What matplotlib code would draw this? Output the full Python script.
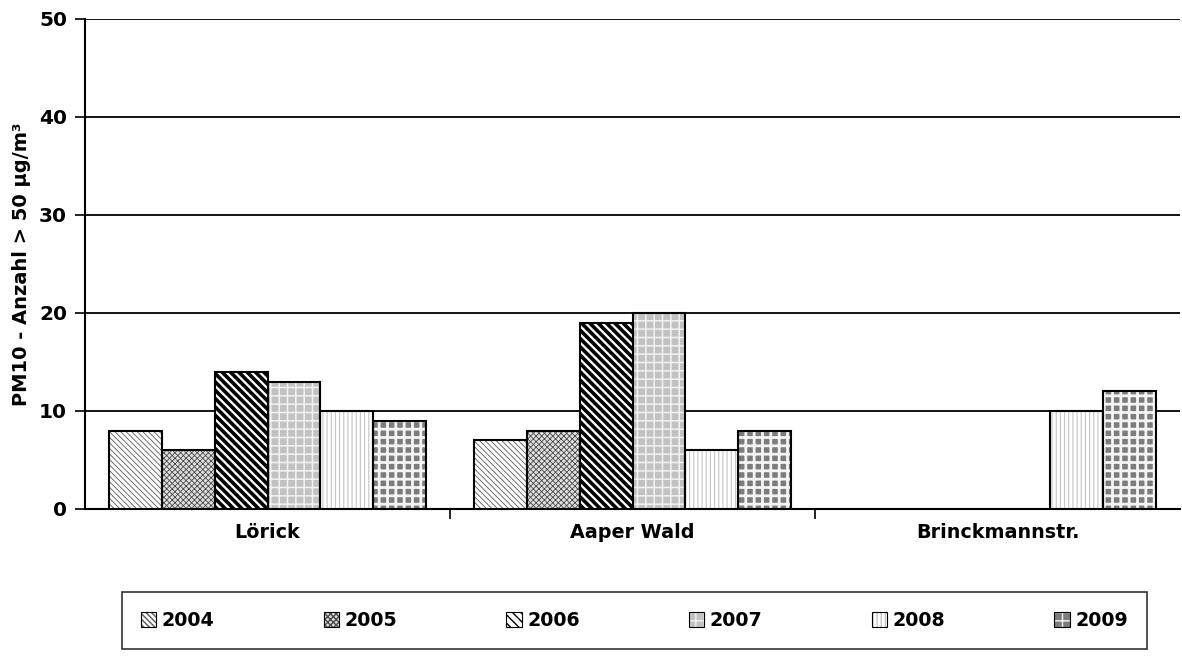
import numpy as np
import matplotlib
matplotlib.use("Agg")
import matplotlib.pyplot as plt
from matplotlib.patches import Patch

plt.rcParams['font.family'] = ['DejaVu Sans']
plt.rcParams['font.weight'] = 'bold'

stations = ["Lörick", "Aaper Wald", "Brinckmannstr."]
years = ["2004", "2005", "2006", "2007", "2008", "2009"]
counts = {
    "2004": [8, 7, np.nan],
    "2005": [6, 8, np.nan],
    "2006": [14, 19, np.nan],
    "2007": [13, 20, np.nan],
    "2008": [10, 6, 10],
    "2009": [9, 8, 12],
}
y_ticks = [0, 10, 20, 30, 40, 50]

# fill colour, hatch pattern, hatch colour, hatch line width
styles = {
    "2004": ("white", "\\\\\\\\\\\\", "#5a5a5a", 0.6),
    "2005": ("#e0e0e0", "xxxxxx", "#4a4a4a", 0.6),
    "2006": ("white", "\\\\\\\\", "black", 2.6),
    "2007": ("#c2c2c2", "++", "#f2f2f2", 1.1),
    "2008": ("white", "||||", "#c4c4c4", 0.8),
    "2009": ("#7c7c7c", "++", "#f4f4f4", 2.0),
}

fig = plt.figure(figsize=(11.82, 6.57), dpi=100)
ax = fig.add_axes([85 / 1182, 1 - 509 / 657, (1180 - 85) / 1182, (509 - 19) / 657])

x = np.arange(len(stations))
width = 0.145
n = len(years)
handles = []
for i, yr in enumerate(years):
    fc, hatch, hc, hlw = styles[yr]
    pos = x + (i - (n - 1) / 2) * width
    vals = counts[yr]
    with plt.rc_context({'hatch.linewidth': hlw}):
        bars = ax.bar(pos, vals, width, color=fc, edgecolor=hc, hatch=hatch,
                      linewidth=0, zorder=3)
        for b in bars:
            if hasattr(b, "set_hatch_linewidth"):
                b.set_hatch_linewidth(hlw)
        ax.bar(pos, vals, width, facecolor="none", edgecolor="black",
               linewidth=1.5, zorder=4)
        h = Patch(facecolor=fc, edgecolor=hc, hatch=hatch, linewidth=0)
        if hasattr(h, "set_hatch_linewidth"):
            h.set_hatch_linewidth(min(hlw, 1.0))
    handles.append((h, Patch(facecolor="none", edgecolor="black", linewidth=0.8)))

ax.set_xlim(-0.5, 2.5)
ax.set_ylim(0, 50)
ax.set_yticks(y_ticks)
ax.set_yticklabels([str(t) for t in y_ticks], fontsize=14.5, fontweight='bold')
ax.yaxis.grid(True, color="black", linewidth=1.3, zorder=0)
ax.set_axisbelow(True)
ax.set_xticks(x)
ax.set_xticklabels(stations, fontsize=13.8, fontweight='bold')
ax.tick_params(axis='x', which='major', length=0, pad=10)
ax.set_xticks([0.5, 1.5], minor=True)
ax.tick_params(axis='x', which='minor', length=7, width=1.2, direction='out')
ax.tick_params(axis='y', length=7, width=1.2, direction='out', pad=6)
for s in ("top", "right"):
    ax.spines[s].set_visible(False)
for s in ("left", "bottom"):
    ax.spines[s].set_linewidth(1.5)
ax.set_ylabel("PM10 - Anzahl > 50 µg/m³", fontsize=14, fontweight='bold', labelpad=6)

leg = fig.legend(handles, years, loc="center", ncol=6, mode="expand",
                 bbox_to_anchor=(122 / 1182, 2 / 657, (1147 - 122) / 1182, (655 - 586) / 657),
                 bbox_transform=fig.transFigure, frameon=True, fancybox=False,
                 edgecolor="black", prop={'size': 13.7, 'weight': 'bold'},
                 handlelength=0.8, handleheight=0.8, handletextpad=0.3,
                 borderpad=1.0, borderaxespad=0)
leg.get_frame().set_linewidth(1.2)

fig.savefig("out.png", dpi=100)
